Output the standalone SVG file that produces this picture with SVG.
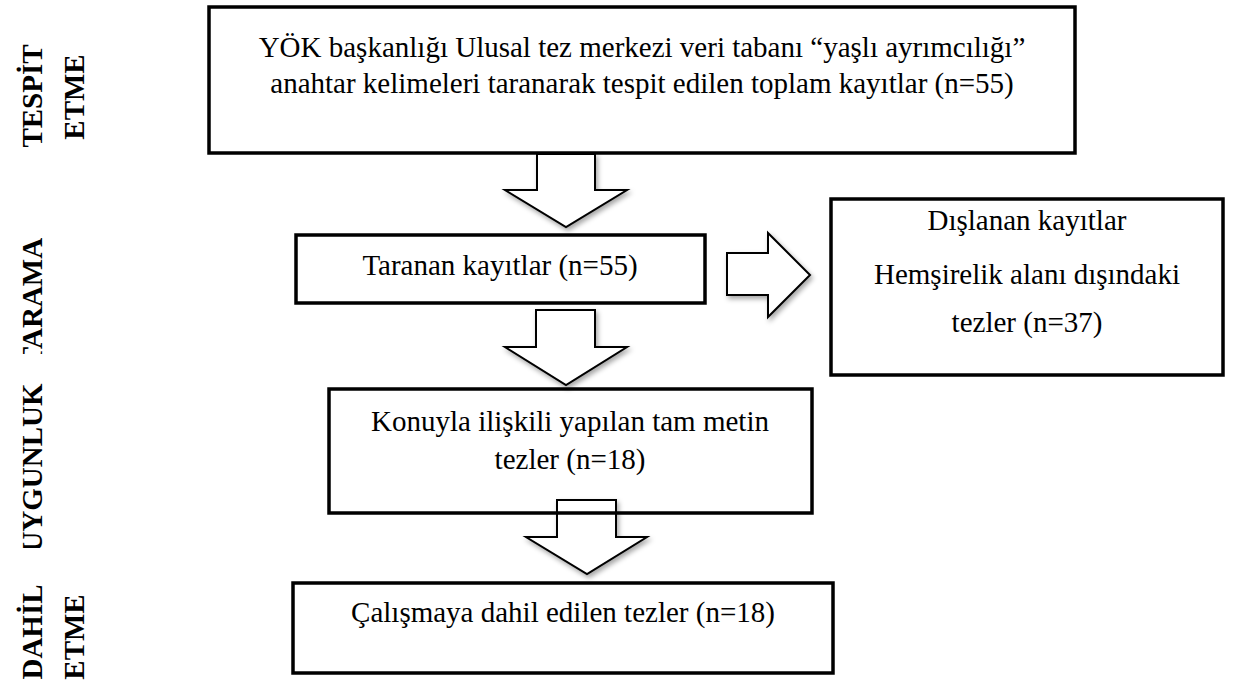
<svg xmlns="http://www.w3.org/2000/svg" width="1253" height="681" viewBox="0 0 1253 681">
<defs>
<style>
.box{fill:none;stroke:#000;stroke-width:3.5}
.arr{fill:#fff;stroke:#000;stroke-width:2;stroke-linejoin:miter;filter:url(#sh)}
.t{font-family:"Liberation Serif","Times New Roman",serif;font-size:29px;fill:#000;text-anchor:middle}
.lbl{font-family:"Liberation Serif","Times New Roman",serif;font-size:29px;font-weight:bold;fill:#000;text-anchor:middle}
</style>
<filter id="sh" x="-30%" y="-30%" width="170%" height="170%">
<feDropShadow dx="2" dy="3" stdDeviation="2.5" flood-color="#000" flood-opacity="0.35"/>
</filter>
<clipPath id="clipTarama"><rect x="0" y="200" width="130" height="154"/></clipPath>
<clipPath id="clipUygun"><rect x="0" y="360" width="130" height="188"/></clipPath>
</defs>
<rect x="0" y="0" width="1253" height="681" fill="#fff"/>

<g id="labels">
<text class="lbl" transform="translate(42,96) rotate(-90)">TESPİT</text>
<text class="lbl" transform="translate(84,97) rotate(-90)">ETME</text>
<g clip-path="url(#clipTarama)"><text class="lbl" transform="translate(42,302) rotate(-90)">TARAMA</text></g>
<g clip-path="url(#clipUygun)"><text class="lbl" transform="translate(42,468) rotate(-90)">UYGUNLUK</text></g>
<text class="lbl" transform="translate(42,632) rotate(-90)">DAHİL</text>
<text class="lbl" transform="translate(84,637) rotate(-90)">ETME</text>
</g>

<g id="connectors">
<path class="arr" d="M537,154 L595,154 L595,190 L627,190 L566,227 L505,190 L537,190 Z"/>
<path class="arr" d="M727,253 L768,253 L768,233 L810,275 L768,317 L768,295 L727,295 Z"/>
<path class="arr" d="M536,310 L595,310 L595,347 L627,347 L566,385 L505,347 L536,347 Z"/>
<path class="arr" d="M557,500 L616,500 L616,537 L647,537 L587,574 L526,537 L557,537 Z"/>
</g>

<g id="node-tespit">
<rect class="box" x="209" y="7" width="866" height="146"/>
<text class="t" x="642" y="57">YÖK başkanlığı Ulusal tez merkezi veri tabanı “yaşlı ayrımcılığı”</text>
<text class="t" x="642" y="93">anahtar kelimeleri taranarak tespit edilen toplam kayıtlar (n=55)</text>
</g>
<g id="node-taranan">
<rect class="box" x="296" y="235" width="409" height="68"/>
<text class="t" x="500" y="275">Taranan kayıtlar (n=55)</text>
</g>
<g id="node-dislanan">
<rect class="box" x="831" y="199" width="392" height="176"/>
<text class="t" x="1027" y="230">Dışlanan kayıtlar</text>
<text class="t" x="1027" y="284">Hemşirelik alanı dışındaki</text>
<text class="t" x="1027" y="332">tezler (n=37)</text>
</g>
<g id="node-konuyla">
<rect class="box" x="329" y="389" width="483" height="124"/>
<text class="t" x="570" y="431">Konuyla ilişkili yapılan tam metin</text>
<text class="t" x="570" y="469">tezler (n=18)</text>
</g>
<g id="node-dahil">
<rect class="box" x="293" y="583" width="540" height="90"/>
<text class="t" x="563" y="622">Çalışmaya dahil edilen tezler (n=18)</text>
</g>
</svg>
